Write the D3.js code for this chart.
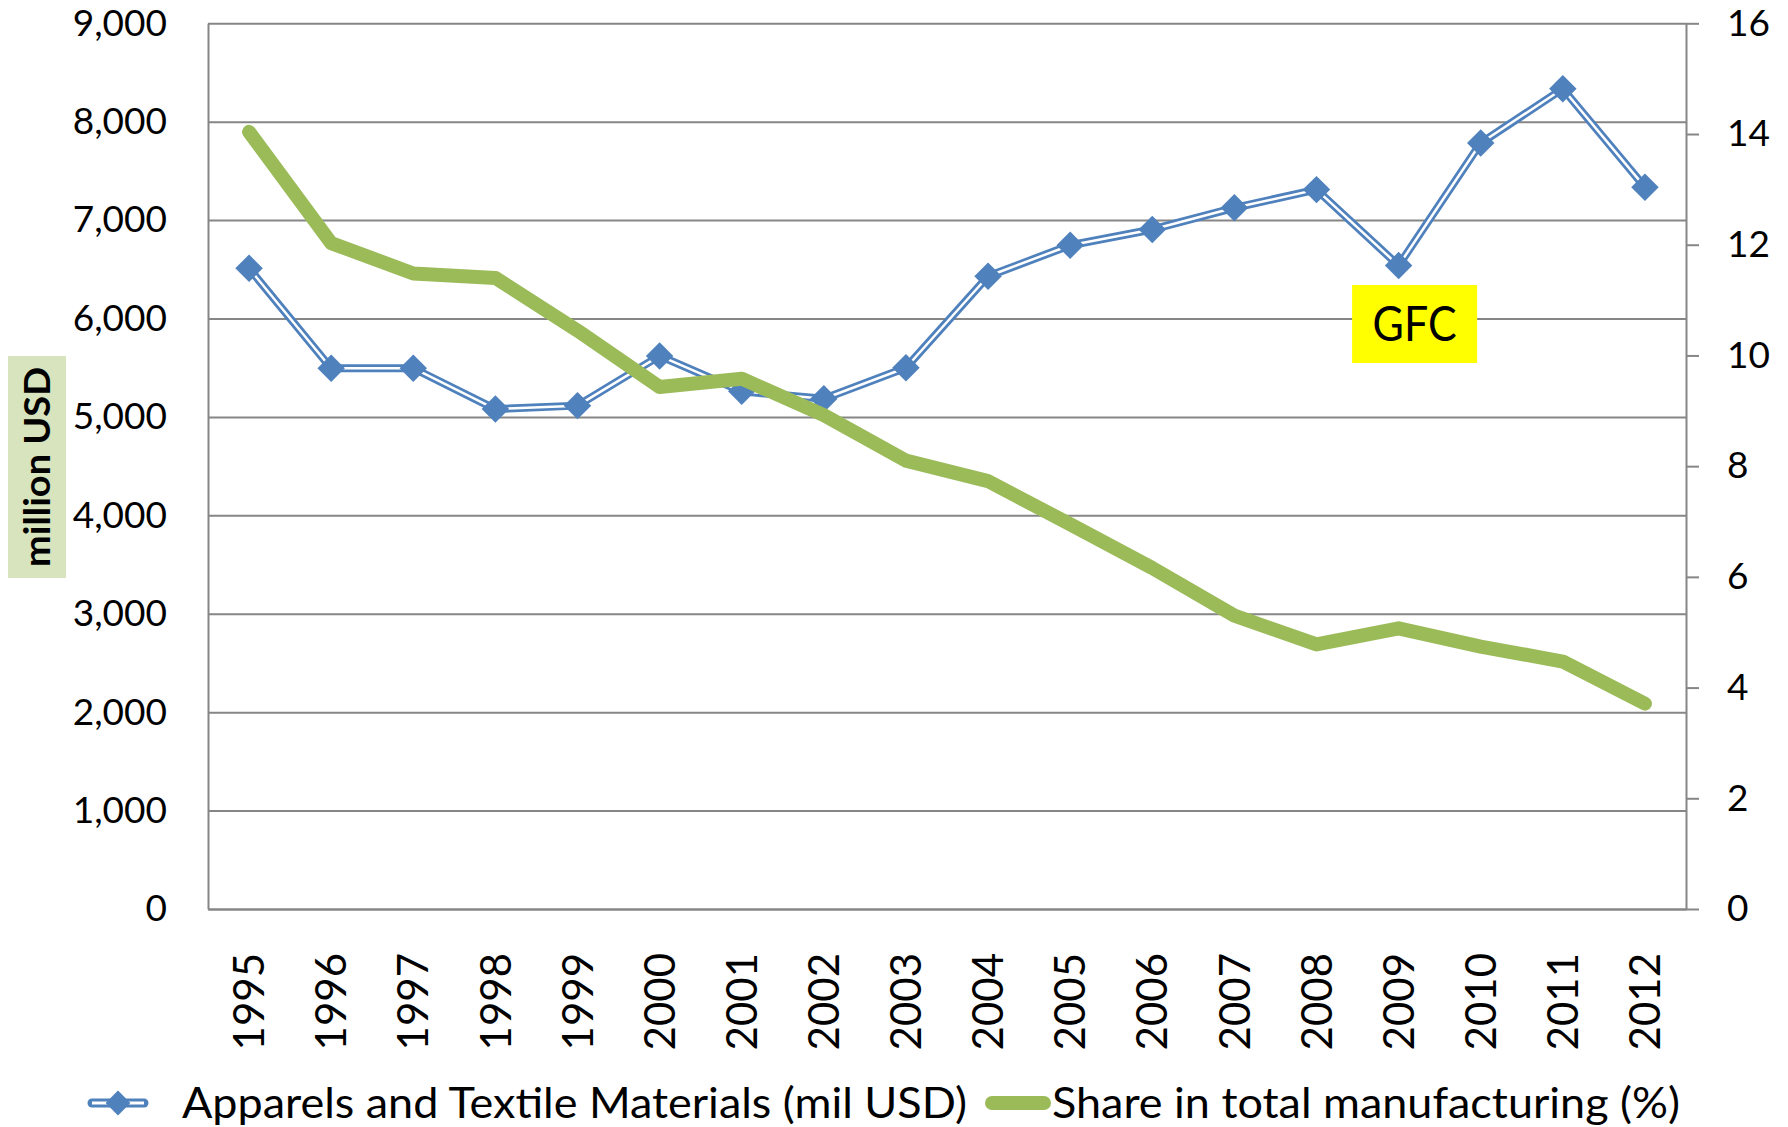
<!DOCTYPE html>
<html>
<head>
<meta charset="utf-8">
<script src="https://cdn.jsdelivr.net/npm/d3@7"></script>
<style>
  html, body { margin: 0; padding: 0; background: #fff; }
  svg text { font-family: Lato, "Liberation Sans", sans-serif; fill: #000; }
</style>
</head>
<body>
<div id="chart"></div>
<script>
var years = ['1995','1996','1997','1998','1999','2000','2001','2002','2003','2004',
             '2005','2006','2007','2008','2009','2010','2011','2012'];
var apparels = [6510, 5495, 5495, 5080, 5115, 5620, 5260, 5185, 5500, 6430,
                6745, 6905, 7125, 7310, 6538, 7783, 8335, 7335];
var share = [14.04, 12.03, 11.48, 11.40, 10.45, 9.43, 9.58, 8.92, 8.10, 7.73,
             6.95, 6.16, 5.30, 4.78, 5.07, 4.74, 4.47, 3.71];
var leftTicks = [0, 1000, 2000, 3000, 4000, 5000, 6000, 7000, 8000, 9000];
var rightTicks = [0, 2, 4, 6, 8, 10, 12, 14, 16];
var seriesNames = ['Apparels and Textile Materials (mil USD)', 'Share in total manufacturing (%)'];
var note = {year: '2009', text: 'GFC'};

(function () {
  var W = 1788, H = 1127;
  var left = 208, right = 1686, top = 23.3, bottom = 909;
  var blue = '#4f81bd', green = '#9bbb59', grid = '#868686';

  var svg = d3.select('#chart').append('svg')
    .attr('width', W).attr('height', H);

  var x = d3.scalePoint().domain(years).range([left, right]).padding(0.5);
  var yL = d3.scaleLinear().domain([0, 9000]).range([bottom, top]);
  var yR = d3.scaleLinear().domain([0, 16]).range([bottom, top]);

  // gridlines
  svg.append('g')
    .attr('transform', 'translate(' + left + ',0)')
    .call(d3.axisLeft(yL).tickValues(leftTicks).tickSize(-(right - left)).tickFormat(''))
    .call(function (g) {
      g.select('.domain').remove();
      g.selectAll('line').attr('stroke', grid).attr('stroke-width', 2);
    });

  // left axis
  svg.append('g')
    .attr('transform', 'translate(' + left + ',0)')
    .call(d3.axisLeft(yL).tickValues(leftTicks).tickSize(0).tickPadding(41).tickFormat(d3.format(',')))
    .call(function (g) {
      g.select('.domain').attr('stroke', grid).attr('stroke-width', 2);
      g.selectAll('text').attr('font-size', 37).attr('font-family', 'Lato, sans-serif');
    });

  // right axis
  svg.append('g')
    .attr('transform', 'translate(' + right + ',0)')
    .call(d3.axisRight(yR).tickValues(rightTicks).tickSizeInner(13).tickSizeOuter(0).tickPadding(28))
    .call(function (g) {
      g.select('.domain').attr('stroke', grid).attr('stroke-width', 2);
      g.selectAll('line').attr('stroke', grid).attr('stroke-width', 2);
      g.selectAll('text').attr('font-size', 37).attr('font-family', 'Lato, sans-serif');
    });

  // bottom axis
  svg.append('g')
    .attr('transform', 'translate(0,' + bottom + ')')
    .call(d3.axisBottom(x).tickSize(0).tickPadding(0))
    .call(function (g) {
      g.select('.domain').attr('stroke', grid).attr('stroke-width', 2);
      g.selectAll('text')
        .attr('font-size', 42)
        .attr('font-family', 'Lato, sans-serif')
        .attr('text-anchor', 'end')
        .attr('dy', '0.35em')
        .attr('transform', 'translate(0,44) rotate(-90)')
        .attr('x', 0).attr('y', 0);
    });

  // axis title
  svg.append('rect').attr('x', 8).attr('y', 356).attr('width', 58).attr('height', 222).attr('fill', '#d7e4bd');
  svg.append('text')
    .attr('transform', 'translate(37,467) rotate(-90)')
    .attr('text-anchor', 'middle').attr('dy', '0.35em')
    .attr('font-size', 36).attr('font-weight', 'bold')
    .attr('textLength', 200).attr('lengthAdjust', 'spacingAndGlyphs')
    .text('million USD');

  // apparels double line
  var lineL = d3.line().x(function (d, i) { return x(years[i]); }).y(function (d) { return yL(d); });
  svg.append('path').datum(apparels).attr('d', lineL)
    .attr('fill', 'none').attr('stroke', blue).attr('stroke-width', 8).attr('stroke-linejoin', 'round');
  svg.append('path').datum(apparels).attr('d', lineL)
    .attr('fill', 'none').attr('stroke', '#fff').attr('stroke-width', 2.5).attr('stroke-linejoin', 'round');

  var diamond = d3.symbol().type(d3.symbolDiamond2).size(2 * 15.5 * 15.5);
  svg.append('g').selectAll('path').data(apparels).join('path')
    .attr('d', diamond)
    .attr('transform', function (d, i) { return 'translate(' + x(years[i]) + ',' + yL(d) + ')'; })
    .attr('fill', blue);

  // share line
  var lineR = d3.line().x(function (d, i) { return x(years[i]); }).y(function (d) { return yR(d); });
  svg.append('path').datum(share).attr('d', lineR)
    .attr('fill', 'none').attr('stroke', green).attr('stroke-width', 14)
    .attr('stroke-linecap', 'round').attr('stroke-linejoin', 'round');

  // GFC note
  var nx = x(note.year) + 16;
  svg.append('rect').attr('x', nx - 62.5).attr('y', 285).attr('width', 125).attr('height', 78).attr('fill', '#ffff00');
  svg.append('text').attr('x', nx).attr('y', 324).attr('dy', '0.35em')
    .attr('text-anchor', 'middle').attr('font-size', 48)
    .attr('textLength', 84).attr('lengthAdjust', 'spacingAndGlyphs')
    .text(note.text);

  // legend
  var ly = 1103;
  var lg = svg.append('g');
  lg.append('line').attr('x1', 92).attr('x2', 144).attr('y1', ly).attr('y2', ly)
    .attr('stroke', blue).attr('stroke-width', 9).attr('stroke-linecap', 'round');
  lg.append('line').attr('x1', 92).attr('x2', 144).attr('y1', ly).attr('y2', ly)
    .attr('stroke', '#fff').attr('stroke-width', 3);
  lg.append('path').attr('d', d3.symbol().type(d3.symbolDiamond2).size(2 * 14 * 14))
    .attr('transform', 'translate(118,' + ly + ')').attr('fill', blue);
  lg.append('text').attr('x', 182).attr('y', ly).attr('dy', '0.35em').attr('font-size', 42)
    .attr('textLength', 785).attr('lengthAdjust', 'spacingAndGlyphs')
    .text(seriesNames[0]);
  lg.append('line').attr('x1', 992).attr('x2', 1044).attr('y1', ly).attr('y2', ly)
    .attr('stroke', green).attr('stroke-width', 14).attr('stroke-linecap', 'round');
  lg.append('text').attr('x', 1052).attr('y', ly).attr('dy', '0.35em').attr('font-size', 42)
    .attr('textLength', 628).attr('lengthAdjust', 'spacingAndGlyphs')
    .text(seriesNames[1]);
}());
</script>
</body>
</html>
